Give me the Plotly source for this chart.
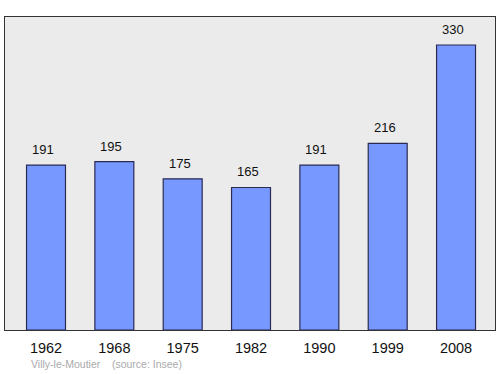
import plotly.graph_objects as go

years = ["1962", "1968", "1975", "1982", "1990", "1999", "2008"]
population = [191, 195, 175, 165, 191, 216, 330]
source_text = "Villy-le-Moutier    (source: Insee)"

xs = list(range(len(years)))

fig = go.Figure()
fig.add_trace(go.Bar(
    x=xs, y=population, width=0.57,
    marker=dict(color="#7799ff", line=dict(color="#2a2a55", width=1.2)),
    hoverinfo="skip",
))

for x, v in zip(xs, population):
    fig.add_annotation(x=x, y=v, text=str(v), showarrow=False,
                       yanchor="bottom", yshift=6, xshift=-3,
                       font=dict(family="Liberation Sans, Arial", size=13, color="#111"))

fig.add_annotation(xref="paper", yref="paper", x=0.049, y=-0.109,
                   xanchor="left", yanchor="middle", text=source_text.replace("    ", "&nbsp;&nbsp;&nbsp;&nbsp;"),
                   showarrow=False,
                   font=dict(family="Liberation Sans, Arial", size=10.5, color="#aaaaaa"))

fig.update_layout(
    width=500, height=374,
    margin=dict(l=5, r=5, t=17, b=44),
    paper_bgcolor="white",
    plot_bgcolor="#ebebeb",
    showlegend=False,
    xaxis=dict(range=[-0.6, 6.57], tickvals=xs, ticktext=years,
               showgrid=False, zeroline=False, showline=True, mirror=True,
               linecolor="#333", linewidth=1.2, ticks="",
               tickfont=dict(family="Liberation Sans, Arial", size=14.5, color="#111"),
               ticklabelstandoff=4, fixedrange=True),
    yaxis=dict(range=[0, 362.4], showgrid=False, zeroline=False,
               showticklabels=False, showline=True, mirror=True,
               linecolor="#333", linewidth=1.2, ticks="", fixedrange=True),
)

fig.write_html("out.html", config={"displayModeBar": False},
               post_script="document.body.style.margin='0';document.body.style.overflow='hidden';")
